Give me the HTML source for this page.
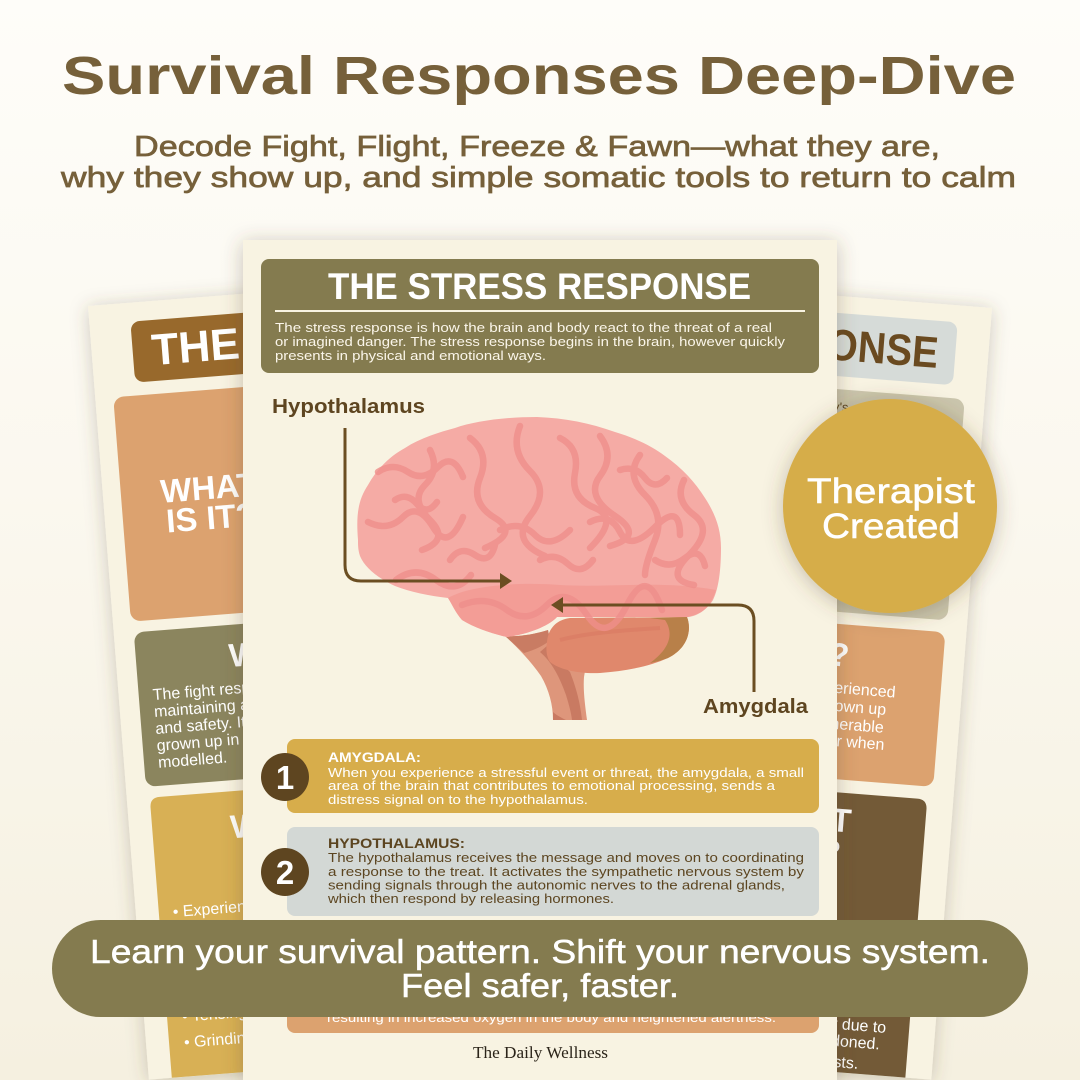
<!DOCTYPE html>
<html><head><meta charset="utf-8"><style>
html,body{margin:0;padding:0;width:1080px;height:1080px;overflow:hidden;background:#fbf8f0}
svg{display:block}
text{font-family:"Liberation Sans",sans-serif}
</style></head><body>
<svg width="1080" height="1080" viewBox="0 0 1080 1080" xmlns="http://www.w3.org/2000/svg">
<defs>
<linearGradient id="bg" x1="0" y1="0" x2="0" y2="1">
<stop offset="0" stop-color="#fefdf9"/><stop offset="0.45" stop-color="#fbf8ef"/><stop offset="1" stop-color="#f5f0e0"/>
</linearGradient>
<filter id="sh" x="-20%" y="-20%" width="140%" height="140%"><feDropShadow dx="0" dy="2" stdDeviation="9" flood-color="#5a4a2a" flood-opacity="0.28"/></filter>
<filter id="sh2" x="-20%" y="-20%" width="140%" height="140%"><feDropShadow dx="0" dy="3" stdDeviation="10" flood-color="#5a4a2a" flood-opacity="0.32"/></filter>
</defs>
<rect width="1080" height="1080" fill="url(#bg)"/>

<!-- Title -->
<text x="62" y="94" font-size="54" font-weight="bold" fill="#76603a" textLength="954" lengthAdjust="spacingAndGlyphs">Survival Responses Deep-Dive</text>
<text x="134" y="156" font-size="29" fill="#76603a" stroke="#76603a" stroke-width="0.7" textLength="806" lengthAdjust="spacingAndGlyphs">Decode Fight, Flight, Freeze &amp; Fawn—what they are,</text>
<text x="61" y="187" font-size="29" fill="#76603a" stroke="#76603a" stroke-width="0.7" textLength="955" lengthAdjust="spacingAndGlyphs">why they show up, and simple somatic tools to return to calm</text>

<!-- Left back card -->
<g transform="translate(88,306) rotate(-4.5)">
  <rect x="0" y="0" width="594" height="776" fill="#f8f3e2" filter="url(#sh)"/>
  <rect x="41" y="19" width="520" height="61" rx="9" fill="#98692c"/>
  <text x="60" y="64" font-size="44" font-weight="bold" fill="#ffffff">THE FIGHT RESPONSE</text>
  <rect x="18" y="93" width="190" height="225" rx="10" fill="#dca26f"/>
  <text x="106" y="202" text-anchor="middle" font-size="33" font-weight="bold" fill="#ffffff">WHAT</text>
  <text x="106" y="232" text-anchor="middle" font-size="33" font-weight="bold" fill="#ffffff">IS IT?</text>
  <rect x="20" y="329" width="540" height="155" rx="10" fill="#8b855e"/>
  <text x="113" y="371" font-size="33" font-weight="bold" fill="#ffffff">WHY?</text>
  <g font-size="16" fill="#ffffff">
    <text x="34" y="398">The fight response is focused on</text>
    <text x="34" y="415">maintaining a sense of control</text>
    <text x="34" y="432">and safety. It may be that you've</text>
    <text x="34" y="449">grown up in a home where this was</text>
    <text x="34" y="466">modelled.</text>
  </g>
  <path d="M23 776 V505 Q23 495 33 495 H553 Q563 495 563 505 V776 Z" fill="#d8b055"/>
  <text x="101" y="542" font-size="33" font-weight="bold" fill="#ffffff">WHAT DOES IT</text>
  <text x="112" y="574" font-size="33" font-weight="bold" fill="#ffffff">LOOK LIKE?</text>
  <g font-size="16" fill="#ffffff">
    <text x="37" y="616">• Experiencing anger</text>
    <text x="37" y="642">• Feeling irritable</text>
    <text x="37" y="668">• Clenching fists</text>
    <text x="37" y="694">• Raised voice</text>
    <text x="38" y="721">• Tensing muscles</text>
    <text x="38" y="747">• Grinding teeth</text>
  </g>
</g>

<!-- Right back card -->
<g transform="translate(992,308) rotate(4.5)">
  <rect x="-594" y="0" width="594" height="774" fill="#f8f3e2" filter="url(#sh)"/>
  <rect x="-560" y="17" width="527" height="63" rx="9" fill="#d6dbd8"/>
  <text x="-268" y="64" font-size="44" font-weight="bold" fill="#6a4a20" textLength="218" lengthAdjust="spacingAndGlyphs">RESPONSE</text>
  <rect x="-560" y="93" width="540" height="222" rx="10" fill="#cbc6ad"/>
  <text x="-330" y="115" font-size="13" fill="#5c4520">The freeze response is the body's</text>
  <rect x="-300" y="327" width="279" height="155" rx="10" fill="#dca26f"/>
  <text x="-115" y="369" text-anchor="end" font-size="33" font-weight="bold" fill="#ffffff">WHY?</text>
  <g font-size="16" fill="#ffffff" text-anchor="end">
    <text x="-66" y="396">you've experienced</text>
    <text x="-74" y="414">or grown up</text>
    <text x="-75" y="432">feeling vulnerable</text>
    <text x="-73" y="449">or in fear when</text>
  </g>
  <path d="M-300 774 V505 Q-300 495 -290 495 H-36 Q-26 495 -26 505 V774 Z" fill="#735a37"/>
  <text x="-100" y="534" text-anchor="end" font-size="33" font-weight="bold" fill="#ffffff">WHAT</text>
  <text x="-108" y="566" text-anchor="end" font-size="33" font-weight="bold" fill="#ffffff">IS IT?</text>
  <g font-size="16" fill="#ffffff" text-anchor="end">
    <text x="-49" y="731">occur due to</text>
    <text x="-54" y="748">abandoned.</text>
    <text x="-74" y="769">costs.</text>
  </g>
</g>

<!-- Center card -->
<rect x="243" y="240" width="594" height="840" fill="#f8f3e2" filter="url(#sh2)"/>
<rect x="261" y="259" width="558" height="114" rx="8" fill="#847b4f"/>
<text x="328" y="299" font-size="37" font-weight="bold" fill="#ffffff" textLength="423" lengthAdjust="spacingAndGlyphs">THE STRESS RESPONSE</text>
<rect x="275" y="310" width="530" height="2" fill="#f8f3e2"/>
<g font-size="13" fill="#fbf6ea">
  <text x="275" y="332" textLength="497" lengthAdjust="spacingAndGlyphs">The stress response is how the brain and body react to the threat of a real</text>
  <text x="275" y="346" textLength="510" lengthAdjust="spacingAndGlyphs">or imagined danger. The stress response begins in the brain, however quickly</text>
  <text x="275" y="360" textLength="271" lengthAdjust="spacingAndGlyphs">presents in physical and emotional ways.</text>
</g>

<!-- Brain -->
<g>
  <!-- stem -->
  <path d="M505 636 C515 645 530 660 541 676 C549 690 553 705 553 720 L587 720 C585 705 583 690 584 677 L586 665 C570 662 555 655 550 640 L548 630 C535 634 520 637 505 636 Z" fill="#de967b"/>
  <path d="M505 636 C512 642 518 648 524 653 C535 650 545 645 550 640 L548 630 C535 634 520 637 505 636 Z" fill="#c97c63"/>
  <path d="M540 652 C552 662 560 678 566 695 C569 705 571 712 572 720 L582 720 C580 700 575 685 570 672 C562 664 556 658 548 645 Z" fill="#c97a62"/>
  <path d="M553 712 C556 715 562 718 566 720 L553 720 Z" fill="#c97a62"/>
  <!-- cerebellum -->
  <path d="M547 642 C548 630 555 620 570 618 L687 617 C692 630 688 648 668 658 C648 667 625 671 600 673 C580 674 560 670 550 662 C546 656 546 648 547 642 Z" fill="#e0886c"/>
  <path d="M650 618 L687 617 C692 630 688 648 668 658 C660 661 655 662 650 663 C668 650 675 635 665 620 Z" fill="#b88049"/>
  <path d="M560 640 C590 632 630 630 660 628" fill="none" stroke="#d97a62" stroke-width="4" opacity="0.6"/>
  <!-- cerebrum -->
  <path d="M358 540 C356 515 358 500 368 485 C378 467 392 455 405 448 C420 438 440 432 455 428 C475 421 505 417 537 417 C565 418 590 423 615 432 C635 438 652 446 665 456 C682 468 695 482 705 498 C716 515 721 530 721 548 C721 568 719 588 713 600 C707 610 698 615 687 617 L557 617 C550 625 530 634 507 637 C493 634 475 628 462 620 C455 612 452 604 448 598 C430 596 410 592 395 586 C378 578 365 568 360 556 C358 550 358 545 358 540 Z" fill="#f5aba5"/>
  <path d="M448 598 C470 585 520 582 560 585 C610 588 660 580 716 590 C713 600 707 610 698 614 C694 616 690 617 687 617 L557 617 C550 625 530 634 507 637 C493 634 475 628 462 620 C455 612 452 604 448 598Z" fill="#f29892" opacity="0.75"/>
  <g fill="none" stroke="#ef8f8b" stroke-width="6.5" stroke-linecap="round" stroke-linejoin="round" opacity="0.8">
    <path d="M378 472 q15 -10 30 0 t30 -5 t25 10"/>
    <path d="M368 522 q20 10 35 -5 t30 10 t30 -10"/>
    <path d="M396 580 q20 -15 40 0 t35 -5"/>
    <path d="M430 450 q10 20 -5 35 t5 35 t-8 30"/>
    <path d="M470 438 q20 15 10 40 t15 40 t-10 30"/>
    <path d="M520 426 q-10 25 10 45 t0 45 t15 40"/>
    <path d="M560 438 q20 10 15 35 t20 35 t-5 40"/>
    <path d="M600 436 q15 20 0 40 t15 40 t-5 30"/>
    <path d="M640 455 q-15 20 5 40 t10 45 t-10 35"/>
    <path d="M684 480 q-10 20 10 35 t-5 40 t5 30"/>
    <path d="M462 605 q25 -10 45 5 t40 -5 t40 10 t40 -10 t35 5"/>
    <path d="M500 530 q20 -10 35 5 t35 -5"/>
    <path d="M590 522 q20 -10 30 10 t35 -5 t25 8"/>
    <path d="M395 500 q12 -8 22 4 t20 -2"/>
    <path d="M620 470 q15 -5 25 8 t22 0"/>
    <path d="M540 560 q15 -8 28 4 t25 -4"/>
    <path d="M450 560 q10 -15 25 -5 t20 -10"/>
    <path d="M655 560 q15 10 30 -2 t20 8"/>
  </g>
</g>

<!-- Connectors -->
<path d="M345 428 V565 Q345 581 361 581 H502" fill="none" stroke="#6b4e22" stroke-width="3"/>
<polygon points="500,573 512,581 500,589" fill="#6b4e22"/>
<path d="M754 692 V621 Q754 605 738 605 H560" fill="none" stroke="#6b4e22" stroke-width="3"/>
<polygon points="563,597 551,605 563,613" fill="#6b4e22"/>
<text x="272" y="413" font-size="20" font-weight="bold" fill="#5e4520" textLength="153" lengthAdjust="spacingAndGlyphs">Hypothalamus</text>
<text x="703" y="713" font-size="20" font-weight="bold" fill="#5e4520" textLength="105" lengthAdjust="spacingAndGlyphs">Amygdala</text>

<!-- Item 1 -->
<rect x="287" y="739" width="532" height="74" rx="8" fill="#d7ad4b"/>
<circle cx="285" cy="777" r="24" fill="#5e4520"/>
<text x="285" y="789" text-anchor="middle" font-size="33" font-weight="bold" fill="#ffffff">1</text>
<text x="328" y="762" font-size="14" font-weight="bold" fill="#ffffff" textLength="93" lengthAdjust="spacingAndGlyphs">AMYGDALA:</text>
<g font-size="13" fill="#ffffff">
  <text x="328" y="777" textLength="476" lengthAdjust="spacingAndGlyphs">When you experience a stressful event or threat, the amygdala, a small</text>
  <text x="328" y="790" textLength="447" lengthAdjust="spacingAndGlyphs">area of the brain that contributes to emotional processing, sends a</text>
  <text x="328" y="804" textLength="260" lengthAdjust="spacingAndGlyphs">distress signal on to the hypothalamus.</text>
</g>

<!-- Item 2 -->
<rect x="287" y="827" width="532" height="89" rx="8" fill="#d3d8d5"/>
<circle cx="285" cy="872" r="24" fill="#5e4520"/>
<text x="285" y="884" text-anchor="middle" font-size="33" font-weight="bold" fill="#ffffff">2</text>
<text x="328" y="848" font-size="14" font-weight="bold" fill="#5c4520" textLength="137" lengthAdjust="spacingAndGlyphs">HYPOTHALAMUS:</text>
<g font-size="13" fill="#5c4520">
  <text x="328" y="862" textLength="476" lengthAdjust="spacingAndGlyphs">The hypothalamus receives the message and moves on to coordinating</text>
  <text x="328" y="876" textLength="476" lengthAdjust="spacingAndGlyphs">a response to the treat. It activates the sympathetic nervous system by</text>
  <text x="328" y="889.5" textLength="457" lengthAdjust="spacingAndGlyphs">sending signals through the autonomic nerves to the adrenal glands,</text>
  <text x="328" y="903" textLength="286" lengthAdjust="spacingAndGlyphs">which then respond by releasing hormones.</text>
</g>

<!-- Item 3 (mostly hidden) -->
<rect x="287" y="930" width="532" height="103" rx="8" fill="#dca26f"/>
<circle cx="285" cy="975" r="24" fill="#5e4520"/>
<text x="327" y="1022" font-size="13" fill="#ffffff" textLength="449" lengthAdjust="spacingAndGlyphs">resulting in increased oxygen in the body and heightened alertness.</text>

<text x="473" y="1058" font-size="17" fill="#2b2419" textLength="135" lengthAdjust="spacingAndGlyphs" style="font-family:'Liberation Serif',serif">The Daily Wellness</text>

<!-- Therapist badge -->
<circle cx="890" cy="506" r="107" fill="#d6ad4a" filter="url(#sh2)"/>
<text x="807" y="503" font-size="35" fill="#ffffff" stroke="#ffffff" stroke-width="0.5" textLength="168" lengthAdjust="spacingAndGlyphs">Therapist</text>
<text x="822" y="538" font-size="35" fill="#ffffff" stroke="#ffffff" stroke-width="0.5" textLength="138" lengthAdjust="spacingAndGlyphs">Created</text>

<!-- Banner -->
<rect x="52" y="920" width="976" height="97" rx="48.5" fill="#847b4f"/>
<text x="90" y="963" font-size="33" fill="#ffffff" stroke="#ffffff" stroke-width="0.5" textLength="900" lengthAdjust="spacingAndGlyphs">Learn your survival pattern. Shift your nervous system.</text>
<text x="401" y="997" font-size="33" fill="#ffffff" stroke="#ffffff" stroke-width="0.5" textLength="278" lengthAdjust="spacingAndGlyphs">Feel safer, faster.</text>
</svg>
</body></html>
